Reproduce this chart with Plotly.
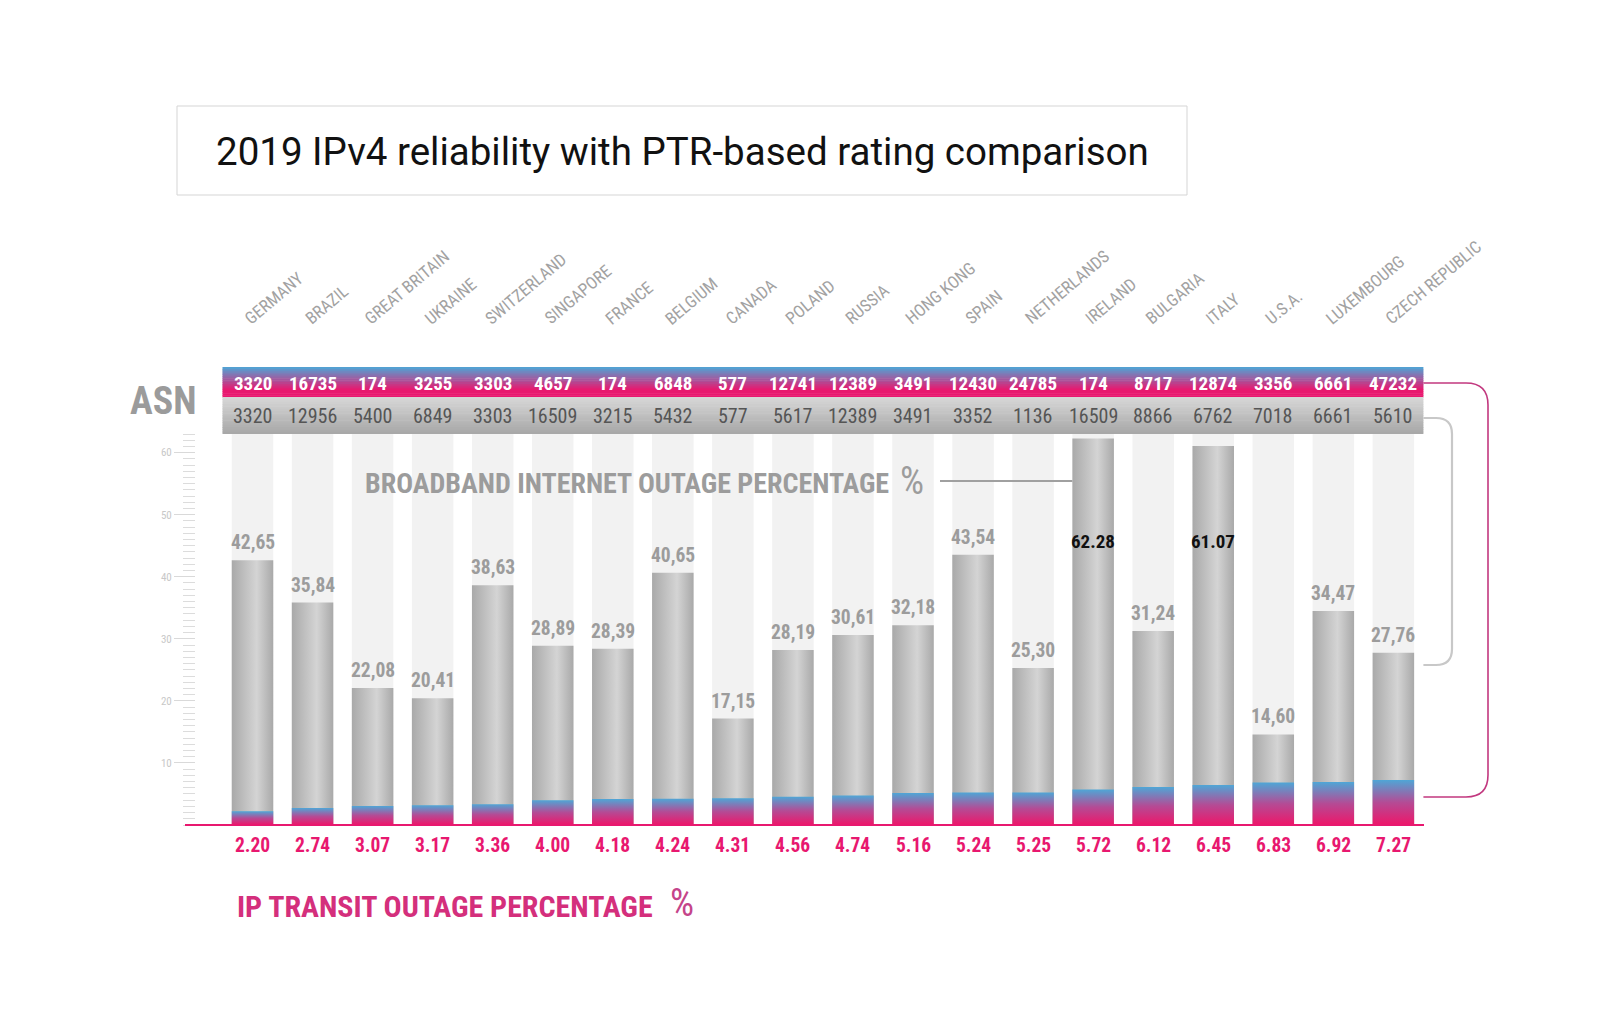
import plotly.graph_objects as go

# ---------------- data ----------------
countries = ["GERMANY", "BRAZIL", "GREAT BRITAIN", "UKRAINE", "SWITZERLAND", "SINGAPORE",
             "FRANCE", "BELGIUM", "CANADA", "POLAND", "RUSSIA", "HONG KONG", "SPAIN",
             "NETHERLANDS", "IRELAND", "BULGARIA", "ITALY", "U.S.A.", "LUXEMBOURG",
             "CZECH REPUBLIC"]
asn_transit = [3320, 16735, 174, 3255, 3303, 4657, 174, 6848, 577, 12741, 12389, 3491,
               12430, 24785, 174, 8717, 12874, 3356, 6661, 47232]
asn_broadband = [3320, 12956, 5400, 6849, 3303, 16509, 3215, 5432, 577, 5617, 12389, 3491,
                 3352, 1136, 16509, 8866, 6762, 7018, 6661, 5610]
broadband_pct = [42.65, 35.84, 22.08, 20.41, 38.63, 28.89, 28.39, 40.65, 17.15, 28.19,
                 30.61, 32.18, 43.54, 25.30, 62.28, 31.24, 61.07, 14.60, 34.47, 27.76]
transit_pct = [2.20, 2.74, 3.07, 3.17, 3.36, 4.00, 4.18, 4.24, 4.31, 4.56, 4.74, 5.16,
               5.24, 5.25, 5.72, 6.12, 6.45, 6.83, 6.92, 7.27]
y_ticks = [10, 20, 30, 40, 50, 60]
title_text = "2019 IPv4 reliability with PTR-based rating comparison"

# ---------------- layout constants ----------------
W, H = 1600, 1028
PL, PR, PT, PB = 196, 1424, 434, 825          # plot area in pixels
X0, X1 = -0.941, 19.51
Y0, Y1 = 0, 63
HW = 0.3456                                    # half bar width (category units)

COND = "'Liberation Sans Narrow', 'Roboto Condensed', 'Arial Narrow', Roboto, sans-serif"
PINK = "#e8186f"
BLUE = "#4ea6d6"
GREY_TXT = "#9c9c9c"


def px_x(px):
    return (px - PL) / (PR - PL)


def px_y(py):
    return (PB - py) / (PB - PT)


def cat_x(c):
    return (c - X0) / (X1 - X0)


def hex2rgb(h):
    h = h.lstrip("#")
    return tuple(int(h[k:k + 2], 16) for k in (0, 2, 4))


def mix(c1, c2, t):
    a, b = hex2rgb(c1), hex2rgb(c2)
    return "rgb(%d,%d,%d)" % tuple(round(a[k] + (b[k] - a[k]) * t) for k in range(3))


def ann(**kw):
    d = dict(showarrow=False, xanchor="center", yanchor="middle")
    d.update(kw)
    return d


n = len(countries)
fig = go.Figure()
shapes = []
annotations = []

# background columns
for i in range(n):
    shapes.append(dict(type="rect", xref="x", yref="paper", x0=i - HW, x1=i + HW, y0=0, y1=1,
                       fillcolor="#f2f2f2", line=dict(width=0), layer="below"))

# broadband bars (grey, horizontal gradient)
for i, v in enumerate(broadband_pct):
    fig.add_trace(go.Scatter(
        x=[i - HW, i + HW, i + HW, i - HW, i - HW], y=[0, 0, v, v, 0],
        mode="lines", line=dict(width=0), fill="toself",
        fillgradient=dict(type="horizontal",
                          colorscale=[[0, "#a9a9a9"], [0.6, "#d4d4d4"], [1, "#a9a9a9"]]),
        hoverinfo="skip", showlegend=False))

# transit bars (pink -> blue vertical gradient)
for i, v in enumerate(transit_pct):
    fig.add_trace(go.Scatter(
        x=[i - HW, i + HW, i + HW, i - HW, i - HW], y=[0, 0, v, v, 0],
        mode="lines", line=dict(width=0), fill="toself",
        fillgradient=dict(type="vertical",
                          colorscale=[[0, "#ee1669"], [0.5, "#b44b95"], [1, "#4fa6d6"]]),
        hoverinfo="skip", showlegend=False))

# broadband value labels
for i, v in enumerate(broadband_pct):
    if v > 60:
        annotations.append(ann(x=i, y=45.6, xref="x", yref="y",
                               text="<b>%.2f</b>" % v,
                               font=dict(family=COND, size=19, color="#111111")))
    else:
        annotations.append(ann(x=i, y=v, xref="x", yref="y", yanchor="bottom", yshift=4,
                               text="<b>%s</b>" % ("%.2f" % v).replace(".", ","),
                               font=dict(family=COND, size=19.5, color=GREY_TXT)))

# transit value labels
for i, v in enumerate(transit_pct):
    annotations.append(ann(x=i, y=px_y(845), xref="x", yref="paper",
                           text="<b>%.2f</b>" % v,
                           font=dict(family=COND, size=19.5, color=PINK)))

# country labels (rotated)
for i, c in enumerate(countries):
    annotations.append(ann(x=i - 0.24, y=px_y(331), xref="x", yref="paper",
                           xanchor="left", yanchor="bottom", textangle=-40, text=c,
                           font=dict(family=COND, size=17, color="#a2a2a2")))

# ASN bands (gradient stripes)
bx0, bx1 = cat_x(-0.5), cat_x(19.5)
K = 16
top1, bot1 = 367, 397
for k in range(K):
    ya = top1 + (bot1 - top1) * k / K
    yb = top1 + (bot1 - top1) * (k + 1) / K
    t = min(1.0, (k + 0.5) / K / 0.75)
    shapes.append(dict(type="rect", xref="paper", yref="paper", x0=bx0, x1=bx1,
                       y0=px_y(yb + 0.6), y1=px_y(ya), fillcolor=mix(BLUE, PINK, t),
                       line=dict(width=0)))
top2, bot2 = 397, 434
for k in range(K):
    ya = top2 + (bot2 - top2) * k / K
    yb = top2 + (bot2 - top2) * (k + 1) / K
    t = (k + 0.5) / K
    shapes.append(dict(type="rect", xref="paper", yref="paper", x0=bx0, x1=bx1,
                       y0=px_y(min(yb + 0.6, bot2)), y1=px_y(ya),
                       fillcolor=mix("#d8d8d8", "#a6a6a6", t), line=dict(width=0)))

for i in range(n):
    annotations.append(ann(x=i, y=px_y(383), xref="x", yref="paper",
                           text="<b>%d</b>" % asn_transit[i],
                           font=dict(family=COND, size=19, color="white")))
    annotations.append(ann(x=i, y=px_y(416), xref="x", yref="paper",
                           text="%d" % asn_broadband[i],
                           font=dict(family=COND, size=20, color="#555555")))

annotations.append(ann(x=px_x(198), y=px_y(401), xref="paper", yref="paper",
                       xanchor="right", text="<b>ASN</b>",
                       font=dict(family=COND, size=38, color="#9b9b9b")))

# baseline
shapes.append(dict(type="line", xref="paper", yref="paper", x0=px_x(185), x1=1, y0=0, y1=0,
                   line=dict(color=PINK, width=2)))

# title box
shapes.append(dict(type="rect", xref="paper", yref="paper", x0=px_x(177), x1=px_x(1187),
                   y0=px_y(195), y1=px_y(106), line=dict(color="#d5d5d5", width=1),
                   fillcolor="rgba(0,0,0,0)"))
annotations.append(ann(x=px_x(682), y=px_y(151), xref="paper", yref="paper",
                       text=title_text, font=dict(family="Roboto", size=38.5, color="#111111")))

# broadband legend text
annotations.append(ann(x=px_x(363), y=px_y(483), xref="paper", yref="paper",
                       xanchor="left", text="<b>BROADBAND INTERNET OUTAGE PERCENTAGE</b>",
                       font=dict(family=COND, size=28, color=GREY_TXT)))
annotations.append(ann(x=px_x(898), y=px_y(481), xref="paper", yref="paper",
                       xanchor="left", text="%",
                       font=dict(family=COND, size=38, color=GREY_TXT)))
shapes.append(dict(type="line", xref="paper", yref="paper", x0=px_x(940),
                   x1=cat_x(14 - HW), y0=px_y(481), y1=px_y(481),
                   line=dict(color="#a0a0a0", width=2)))

# IP transit legend text
annotations.append(ann(x=px_x(235), y=px_y(906), xref="paper", yref="paper",
                       xanchor="left", text="<b>IP TRANSIT OUTAGE PERCENTAGE</b>",
                       font=dict(family=COND, size=30, color="#d42f7c")))
annotations.append(ann(x=px_x(668), y=px_y(903), xref="paper", yref="paper",
                       xanchor="left", text="%",
                       font=dict(family=COND, size=38, color="#c5448a")))


# right brackets
def bracket(xs, xe, ytop, ybot, r):
    p = ("M %f,%f L %f,%f Q %f,%f %f,%f L %f,%f Q %f,%f %f,%f L %f,%f" % (
        px_x(xs), px_y(ytop), px_x(xe - r), px_y(ytop),
        px_x(xe), px_y(ytop), px_x(xe), px_y(ytop + r),
        px_x(xe), px_y(ybot - r),
        px_x(xe), px_y(ybot), px_x(xe - r), px_y(ybot),
        px_x(xs), px_y(ybot)))
    return p


band_right_px = cat_x(19.5) * (PR - PL) + PL
shapes.append(dict(type="path", xref="paper", yref="paper",
                   path=bracket(band_right_px, 1488, 383, 797, 22),
                   line=dict(color="#c2387f", width=1.6)))
shapes.append(dict(type="path", xref="paper", yref="paper",
                   path=bracket(band_right_px, 1452, 418, 665, 16),
                   line=dict(color="#c8c8c8", width=2.2)))

fig.update_layout(
    width=W, height=H,
    margin=dict(l=PL, r=W - PR, t=PT, b=H - PB),
    paper_bgcolor="white", plot_bgcolor="white",
    showlegend=False,
    xaxis=dict(range=[X0, X1], visible=False, fixedrange=True),
    yaxis=dict(range=[Y0, Y1], showgrid=False, zeroline=False, showline=False,
               ticks="outside", ticklen=21, tickwidth=1, tickcolor="#d9d9d9",
               tickvals=y_ticks, tickfont=dict(family=COND, size=11, color="#c8c8c8"),
               minor=dict(dtick=1, tick0=0, ticks="outside", ticklen=12,
                          tickcolor="#dcdcdc", tickwidth=1),
               fixedrange=True),
    shapes=shapes,
    annotations=annotations,
)

fig.write_html("out.html", config={"displayModeBar": False},
               post_script="document.body.style.margin='0px';")
